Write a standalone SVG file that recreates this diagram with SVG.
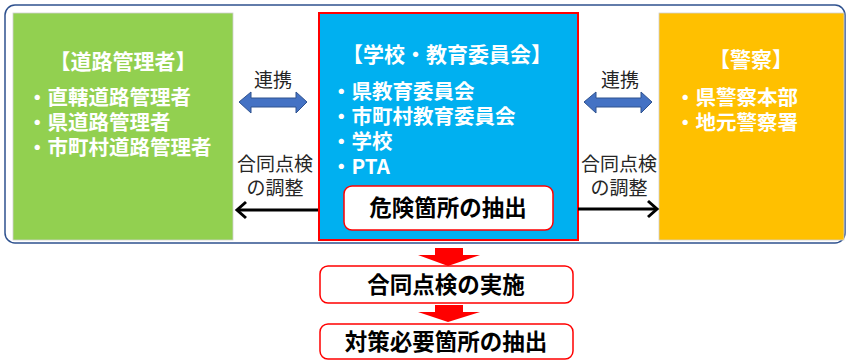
<svg xmlns="http://www.w3.org/2000/svg" width="847" height="360" viewBox="0 0 847 360">
<defs>
<style>
text{font-family:"Noto Sans CJK JP","Noto Sans",sans-serif;}
.wt{fill:#fff;font-size:20.5px;font-weight:bold;}
.tt{fill:#fff;font-size:21px;font-weight:bold;text-anchor:middle;}
.bt{fill:#000;font-size:22.5px;font-weight:bold;text-anchor:middle;}
.lb{fill:#262626;font-size:19px;text-anchor:middle;}
.dbl{fill:#4472C4;stroke:#2F528F;stroke-width:1;}
.blk{stroke:#000;stroke-width:3;fill:none;}
.red{fill:#FF0000;}
.rbox{fill:#fff;stroke:#FF0000;stroke-width:1.5;}
</style>
</defs>
<rect x="5" y="5" width="840" height="238" rx="10" fill="#fff" stroke="#2F528F" stroke-width="1.5"/>
<g id="road">
<rect x="13" y="13" width="220" height="227" fill="#92D050" stroke="#d0d0d0" stroke-width="0.8"/>
<text class="tt" x="123" y="69">【道路管理者】</text>
<text class="wt" x="27" y="105">・直轄道路管理者</text>
<text class="wt" x="27" y="130">・県道路管理者</text>
<text class="wt" x="27" y="155">・市町村道路管理者</text>
</g>
<g id="school">
<rect x="319" y="13" width="259" height="227" fill="#00B0F0" stroke="#FF0000" stroke-width="2"/>
<text class="tt" x="447" y="62">【学校・教育委員会】</text>
<text class="wt" x="331" y="99">・県教育委員会</text>
<text class="wt" x="331" y="124">・市町村教育委員会</text>
<text class="wt" x="331" y="149">・学校</text>
<text class="wt" x="331" y="174">・PTA</text>
<rect class="rbox" x="344" y="186" width="209" height="44" rx="8" stroke-width="2"/>
<text class="bt" x="448" y="216">危険箇所の抽出</text>
</g>
<g id="police">
<rect x="659" y="13" width="185" height="227" fill="#FFC000" stroke="#d0d0d0" stroke-width="0.8"/>
<text class="tt" x="751" y="67">【警察】</text>
<text class="wt" x="675" y="105">・県警察本部</text>
<text class="wt" x="675" y="130">・地元警察署</text>
</g>
<g id="connectors">
<text class="lb" x="273" y="87">連携</text>
<polygon class="dbl" points="239,102 251,92 251,98 296,98 296,92 307,102 296,113 296,107 251,107 251,113"/>
<text class="lb" x="620" y="87">連携</text>
<polygon class="dbl" points="584,102 596,92 596,98 641,98 641,92 652,102 641,113 641,107 596,107 596,113"/>
<text class="lb" x="275" y="171">合同点検</text>
<text class="lb" x="275" y="195">の調整</text>
<line class="blk" x1="318" y1="210" x2="237" y2="210"/>
<polyline class="blk" points="246,202 237,210 246,218"/>
<text class="lb" x="619" y="171">合同点検</text>
<text class="lb" x="619" y="195">の調整</text>
<line class="blk" x1="578" y1="209" x2="657" y2="209"/>
<polyline class="blk" points="648,201 657,209 648,217"/>
<polygon class="red" points="435,248 463,248 463,255 480,255 448,266 418,255 435,255"/>
<polygon class="red" points="435,305 463,305 463,312 480,312 448,322 418,312 435,312"/>
</g>
<g id="inspection">
<rect class="rbox" x="320" y="266" width="253" height="37" rx="8"/>
<text class="bt" x="446" y="293">合同点検の実施</text>
</g>
<g id="measures">
<rect class="rbox" x="320" y="324" width="253" height="35" rx="8"/>
<text class="bt" x="446" y="350">対策必要箇所の抽出</text>
</g>
</svg>
